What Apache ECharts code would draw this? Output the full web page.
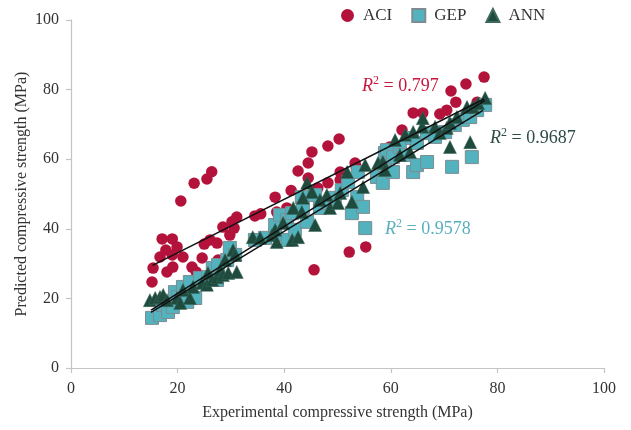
<!DOCTYPE html>
<html>
<head>
<meta charset="utf-8">
<script src="https://cdn.jsdelivr.net/npm/echarts@6/dist/echarts.min.js"></script>
<style>html,body{margin:0;padding:0;background:#fff}#c{width:631px;height:430px}</style>
</head>
<body>
<div id="c"></div>
<script>
var seriesNames = ['ACI', 'GEP', 'ANN'];
var axisTicks = [0, 20, 40, 60, 80, 100];
var r2Labels = ['0.797', '0.9687', '0.9578'];

var aciData = [[15.2,24.7],[15.4,28.7],[16.7,31.9],[17.1,37.1],[17.8,33.9],[18.0,27.6],[19.0,37.1],[19.0,32.5],[19.1,29.0],[19.9,34.8],[20.6,48.0],[21.0,31.9],[22.7,29.0],[23.1,53.1],[23.5,27.6],[24.6,31.6],[25.0,35.6],[25.5,54.3],[26.1,36.8],[26.4,56.4],[27.4,35.9],[27.6,31.0],[28.5,40.5],[29.8,38.2],[30.2,42.0],[30.6,40.2],[31.1,43.4],[34.5,43.7],[35.6,44.3],[38.3,49.1],[38.6,44.8],[40.5,46.0],[41.3,51.0],[42.6,56.6],[44.5,58.9],[44.5,54.6],[45.2,62.1],[45.6,28.2],[46.3,51.7],[48.2,63.8],[48.2,53.2],[50.3,65.8],[50.5,56.3],[50.5,54.0],[52.2,33.3],[53.3,58.9],[53.5,57.8],[55.3,34.8],[59.8,63.5],[62.1,68.4],[64.2,73.3],[66.0,73.3],[69.2,73.0],[70.5,74.1],[71.3,79.6],[72.2,76.4],[74.1,81.6],[76.2,76.4],[77.5,83.6]];

var gepData = [[15.2,14.4],[16.7,15.2],[17.3,18.1],[18.2,16.1],[19.1,17.5],[19.5,21.8],[20.1,20.4],[21.0,23.3],[21.8,19.0],[22.3,24.7],[23.3,20.1],[24.2,25.9],[25.7,26.1],[26.6,28.7],[27.4,25.3],[27.6,29.6],[29.3,31.0],[29.8,34.5],[30.8,32.5],[34.5,36.8],[36.4,37.4],[38.3,38.2],[38.3,41.1],[39.2,44.0],[40.5,42.5],[40.7,36.8],[41.5,44.5],[42.0,39.7],[43.3,49.1],[43.5,46.0],[44.3,42.0],[45.8,49.7],[46.7,46.0],[48.2,47.4],[49.5,48.9],[50.8,51.1],[52.0,53.4],[52.7,44.5],[53.7,49.1],[53.8,56.3],[54.8,46.3],[55.2,40.2],[57.4,54.9],[58.5,53.2],[58.9,58.3],[58.9,61.8],[59.3,62.6],[60.4,60.6],[60.4,56.3],[61.7,63.5],[62.3,61.2],[64.0,66.1],[64.2,56.3],[64.9,64.7],[64.9,58.3],[66.8,67.5],[66.8,59.2],[68.3,66.4],[70.2,67.8],[71.5,57.8],[72.0,69.8],[73.5,71.3],[74.9,72.1],[75.2,60.6],[76.2,74.1],[77.7,75.6]];

var annData = [[14.8,19.5],[15.8,20.1],[16.7,20.4],[17.3,21.0],[18.0,19.5],[19.9,20.1],[20.5,18.7],[21.0,22.4],[22.3,20.1],[22.9,23.3],[24.6,24.4],[25.5,23.9],[25.7,27.3],[26.5,25.3],[27.4,26.1],[28.0,28.2],[28.5,26.7],[28.9,31.0],[29.5,27.3],[30.4,33.9],[30.8,32.5],[31.1,27.6],[34.1,37.6],[35.5,37.4],[37.7,38.2],[38.3,39.7],[38.6,36.2],[39.8,41.7],[41.5,36.8],[41.7,46.0],[42.6,37.6],[43.3,44.8],[43.5,48.9],[44.3,53.2],[45.2,50.6],[45.8,41.1],[46.7,48.3],[48.0,49.7],[48.6,46.0],[50.1,47.4],[50.5,50.3],[51.8,56.3],[52.7,47.7],[54.8,52.0],[55.2,58.3],[57.6,58.9],[58.5,59.2],[58.9,56.9],[60.8,65.5],[61.7,61.2],[62.7,67.0],[63.6,62.1],[64.2,67.8],[65.9,69.3],[66.0,71.8],[68.3,69.3],[69.2,67.5],[70.5,69.0],[71.1,70.4],[71.1,63.5],[72.4,72.1],[74.3,75.0],[74.9,64.9],[75.4,75.0],[76.4,76.1],[77.7,77.6]];

var aciFit = [[15.3,29.5],[77.5,77.3]];
var gepFit = [[15.0,16.0],[77.3,74.0]];
var annFit = [[15.0,16.6],[77.6,76.8]];

var serif = '"Liberation Serif", "DejaVu Serif", serif';
var colACI = '#b3123b', colGEP = '#52b3bf', colANN = '#1f4a3e';

function r2Text(val, color, left, top) {
  return {
    type: 'text', left: left, top: top, z: 100,
    style: {
      text: '{r|R}{s|2}{n| = ' + val + '}',
      rich: {
        r: {fontFamily: serif, fontSize: 18, fontStyle: 'italic', fill: color, lineHeight: 20, verticalAlign: 'bottom'},
        s: {fontFamily: serif, fontSize: 12, fill: color, lineHeight: 20, verticalAlign: 'top'},
        n: {fontFamily: serif, fontSize: 18, fill: color, lineHeight: 20, verticalAlign: 'bottom'}
      }
    }
  };
}

var axisCommon = {
  type: 'value', min: axisTicks[0], max: axisTicks[axisTicks.length - 1], interval: axisTicks[1] - axisTicks[0],
  splitLine: {show: false},
  axisLine: {show: true, lineStyle: {color: '#c4c4c4', width: 1.2}},
  axisTick: {show: true, length: 5, lineStyle: {color: '#c4c4c4', width: 1.2}},
  axisLabel: {fontFamily: serif, fontSize: 16, color: '#333'},
  nameLocation: 'middle',
  nameMoveOverlap: false,
  nameTextStyle: {fontFamily: serif, fontSize: 16, color: '#333'}
};

var chart = echarts.init(document.getElementById('c'), null, {renderer: 'canvas'});
chart.setOption({
  animation: false,
  grid: {left: 71, right: 27, top: 20, bottom: 62, containLabel: false},
  legend: {
    left: 336, top: 2, itemWidth: 13, itemHeight: 13, itemGap: 19,
    data: [{name: 'ACI', icon: 'circle'}, {name: 'GEP', icon: 'rect'}, {name: 'ANN', icon: 'triangle'}],
    textStyle: {fontFamily: serif, fontSize: 17, color: '#333', padding: [0, 0, 0, 4]}
  },
  xAxis: Object.assign({}, axisCommon, {
    name: 'Experimental compressive strength (MPa)', nameGap: 37,
    axisLabel: Object.assign({}, axisCommon.axisLabel, {margin: 13})
  }),
  yAxis: Object.assign({}, axisCommon, {
    name: 'Predicted compressive strength (MPa)', nameGap: 41,
    axisLabel: Object.assign({}, axisCommon.axisLabel, {margin: 12})
  }),
  graphic: [
    r2Text(r2Labels[0], '#c8173f', 362, 75),
    r2Text(r2Labels[1], '#2e4c47', 490, 127),
    r2Text(r2Labels[2], '#5aafbf', 385, 218)
  ],
  series: [
    {name: seriesNames[0], type: 'scatter', data: aciData, symbol: 'circle', symbolSize: 11.5, z: 2,
     itemStyle: {color: colACI, opacity: 1}},
    {name: seriesNames[1], type: 'scatter', data: gepData, symbol: 'rect', symbolSize: 13, z: 3,
     itemStyle: {color: colGEP, borderColor: '#7d8c90', borderWidth: 1, opacity: 1}},
    {name: seriesNames[2], type: 'scatter', data: annData, symbol: 'triangle', symbolSize: 13, z: 4,
     itemStyle: {color: colANN, borderColor: '#3d6a5c', borderWidth: 0.5, opacity: 1}},
    {name: 'ACI fit', type: 'line', data: aciFit, showSymbol: false, silent: true, z: 5,
     lineStyle: {color: '#111', width: 1.5}},
    {name: 'GEP fit', type: 'line', data: gepFit, showSymbol: false, silent: true, z: 5,
     lineStyle: {color: '#111', width: 1.5}},
    {name: 'ANN fit', type: 'line', data: annFit, showSymbol: false, silent: true, z: 5,
     lineStyle: {color: '#111', width: 1.5}}
  ]
});
</script>
</body>
</html>
